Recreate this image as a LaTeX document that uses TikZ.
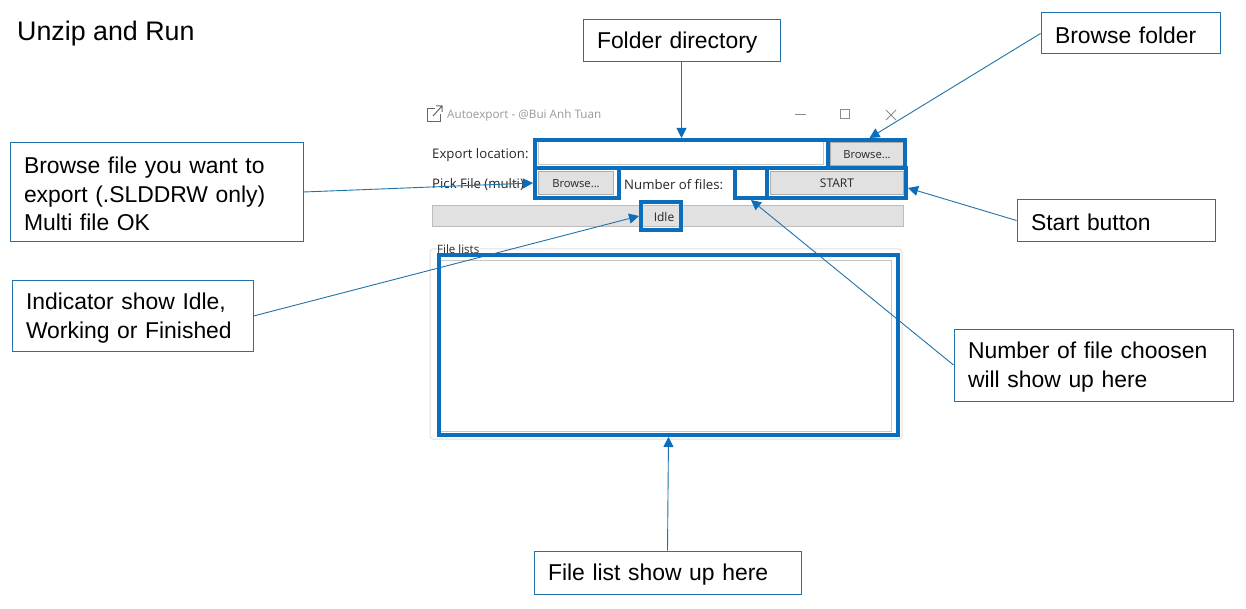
\documentclass[tikz,border=0pt]{standalone}
\usepackage{fontspec}
\setmainfont{Liberation Sans}
\newfontfamily\uifont{Open Sans}
\usetikzlibrary{arrows.meta, positioning}
\definecolor{markblue}{HTML}{0A6EBD}
\definecolor{calloutline}{HTML}{2072A8}
\definecolor{btnfill}{HTML}{E1E1E1}
\definecolor{btnline}{HTML}{ADADAD}
\tikzset{
  callout/.style={draw=calloutline, line width=1pt, fill=white, align=left, font=\fontsize{22.9}{28.5}\selectfont, execute at begin node=\rule{0pt}{20.5pt}},
  markbox/.style={draw=markblue, line width=4pt},
  pointer/.style={draw=calloutline, line width=0.9pt, -{Triangle[length=10pt,width=10pt,color=markblue]}},
  uitext/.style={font=\uifont\fontsize{13.2}{15}\selectfont, text=black!85, inner sep=0pt},
  winbtn/.style={draw=btnline, fill=btnfill, line width=1pt, uitext, font=\uifont\fontsize{11.2}{14}\selectfont},
  winfield/.style={draw=btnline!70, fill=white, line width=1pt}
}
\begin{document}
\begin{tikzpicture}[x=1pt, y=-1pt]
\fill[white] (0,0) rectangle (1246,609);
\useasboundingbox (0,0) rectangle (1246,609);

% Title
\node[anchor=west, inner sep=0pt, font=\fontsize{26.8}{30}\selectfont] (title) at (17,34) {Unzip and Run};

% Window title bar
\draw[black!60, line width=1pt] (435,109) -- (427,109) -- (427,122) -- (440,122) -- (440,114);
\draw[black!60, line width=1pt] (433,116) -- (442,106) (436,106) -- (442,106) -- (442,112);
\node[uitext, anchor=west, text=black!40, font=\uifont\fontsize{11.7}{14}\selectfont] (wintitle) at (447,115) {Autoexport - @Bui Anh Tuan};
\draw[black!45, line width=1pt] (795,115) -- (806,115);
\draw[black!45, line width=1pt] (840,110) rectangle (849,119);
\draw[black!45, line width=1pt] (886,110) -- (896,120) (896,110) -- (886,120);

% Window rows
\node[uitext, anchor=west] (exportlabel) at (432,155.5) {Export location:};
\node[winfield, minimum width=285pt, minimum height=23pt] (exportfield) at (680.5,153.5) {};
\node[winbtn, minimum width=74pt, minimum height=23pt] (browsetop) at (867,154.5) {Browse...};
\node[uitext, anchor=west] (picklabel) at (432,185) {Pick File (multi)};
\node[winbtn, minimum width=75pt, minimum height=23pt] (browsepick) at (576,183.5) {Browse...};
\node[uitext, anchor=west] (numberlabel) at (624,185) {Number of files:};
\node[winbtn, minimum width=133pt, minimum height=23pt, font=\uifont\fontsize{12}{14}\selectfont] (startbtn) at (837,183.5) {START};

% Progress bar and file list
\node[draw=btnline!80, fill=btnfill, line width=0.8pt, minimum width=471pt, minimum height=21pt] (progress) at (667.5,216) {};
\node[uitext, font=\uifont\fontsize{12}{14}\selectfont] (idletext) at (664,217) {Idle};
\draw[black!12, line width=1pt, rounded corners=3pt] (430,249) rectangle (902,439);
\node[uitext, anchor=west, fill=white, font=\uifont\fontsize{11.5}{14}\selectfont] (listlabel) at (437,249) {File lists};
\node[winfield, minimum width=451pt, minimum height=170pt] (listfield) at (665.5,346) {};

% Blue marks
\node[markbox, minimum width=293pt, minimum height=28pt] (markfolder) at (681.5,154) {};
\node[markbox, minimum width=77pt, minimum height=28pt] (markbrowse) at (866.5,154) {};
\node[markbox, minimum width=84pt, minimum height=30pt] (markpick) at (577,183) {};
\node[markbox, minimum width=32pt, minimum height=30pt] (marknumber) at (751,183) {};
\node[markbox, minimum width=139pt, minimum height=30pt] (markstart) at (836.5,183) {};
\node[markbox, minimum width=40pt, minimum height=28pt] (markidle) at (661,216) {};
\node[markbox, minimum width=459pt, minimum height=180pt] (marklist) at (668.5,345) {};

% Callouts
\node[callout, minimum width=197pt, minimum height=42pt, text width=169pt] (calldir) at (681.5,41) {Folder directory};
\node[callout, minimum width=179pt, minimum height=41pt, text width=151pt] (callbrowse) at (1130.5,33.5) {Browse folder};
\node[callout, minimum width=293pt, minimum height=99pt, text width=265pt] (callpick) at (156.5,192) {Browse file you want to\\export (.SLDDRW only)\\Multi file OK};
\node[callout, minimum width=198pt, minimum height=42pt, text width=170pt] (callstart) at (1116,220.5) {Start button};
\node[callout, minimum width=241pt, minimum height=70pt, text width=213pt] (callidle) at (132.5,316) {Indicator show Idle,\\Working or Finished};
\node[callout, minimum width=279pt, minimum height=72pt, text width=251pt] (callnumber) at (1093.5,365) {Number of file choosen\\will show up here};
\node[callout, minimum width=267pt, minimum height=43pt, text width=239pt] (calllist) at (667.5,572.5) {File list show up here};

% Pointers
\draw[pointer] (calldir.south) -- (markfolder.north);
\draw[pointer] (callbrowse.west) -- ([xshift=3pt]markbrowse.north);
\draw[pointer] (callpick.east) -- (markpick.west);
\draw[pointer] (callstart.west) -- ([yshift=-5pt]markstart.east);
\draw[pointer] (callidle.east) -- (markidle.west);
\draw[pointer] (callnumber.west) -- (marknumber.south);
\draw[pointer] (calllist.north) -- (marklist.south);
\end{tikzpicture}
\end{document}
